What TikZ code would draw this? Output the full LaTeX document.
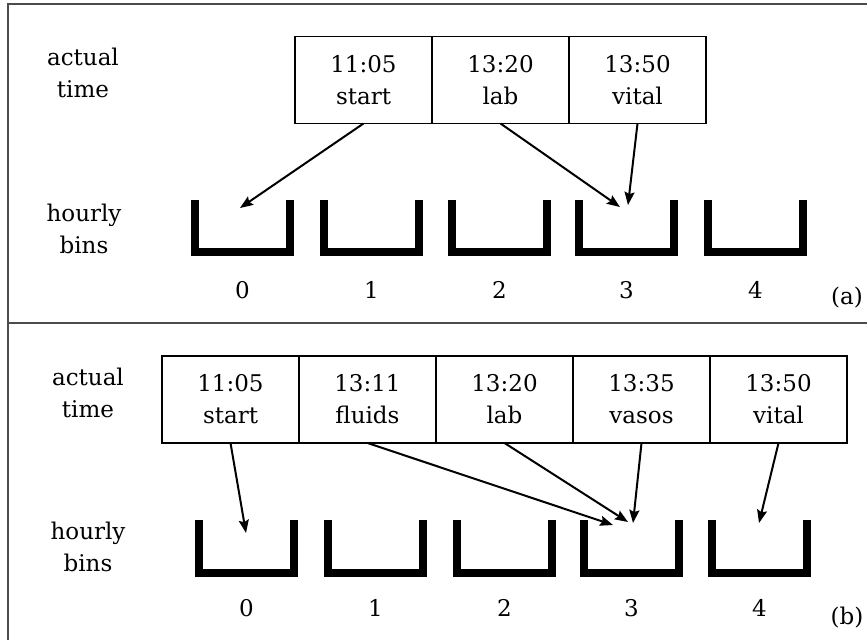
\documentclass[tikz,border=0pt]{standalone}
\usepackage{fontspec}
\setmainfont{DejaVu Serif}
\usetikzlibrary{arrows.meta,positioning}

\tikzset{
  evbox/.style={draw, line width=1.4pt, align=center, minimum width=137pt,
    minimum height=87pt, inner sep=0pt, outer sep=0pt},
  binline/.style={line width=8pt, line join=miter},
  evarrow/.style={-{Stealth[length=13pt,width=10pt,inset=2pt]}, line width=2pt},
  panel/.style={draw=black!70, line width=1.5pt},
  rowlabel/.style={align=center},
}

\begin{document}
\begin{tikzpicture}[x=1pt,y=-1pt, font=\fontsize{23}{32}\selectfont]
\useasboundingbox (0,0) rectangle (867,640);

% frame: left and top edge, divider between the two panels
\draw[panel] (8,640) -- (8,4) -- (867,4);
\draw[panel] (8,323) -- (867,323);

%%% panel (a)
\node[rowlabel] (acta) at (83,73) {actual\\time};
\node[rowlabel] (hrsa) at (84,229) {hourly\\bins};

\node[evbox] (TA1) at (363.5,80) {11:05\\start};
\node[evbox, right=0pt of TA1] (TA2) {13:20\\lab};
\node[evbox, right=0pt of TA2] (TA3) {13:50\\vital};

\foreach \x [count=\i from 0] in {191,320,448,575,704} {
    \draw[binline] (\x+4,200) -- (\x+4,252) -- (\x+99,252) -- (\x+99,200);
    \node (na\i) at (\x+51.5,290) {\i};
}

\coordinate (pa0) at (240,208);
\coordinate (pa3l) at (620,207);
\coordinate (pa3v) at (628,205);
\draw[evarrow] (TA1.south) -- (pa0);
\draw[evarrow] (TA2.south) -- (pa3l);
\draw[evarrow] (TA3.south) -- (pa3v);

\node (laba) at (847,298) {(a)};

%%% panel (b)
\node[rowlabel] (actb) at (88,393) {actual\\time};
\node[rowlabel] (hrsb) at (88,547) {hourly\\bins};

\node[evbox] (TB1) at (230.5,399.5) {11:05\\start};
\node[evbox, right=0pt of TB1] (TB2) {13:11\\fluids};
\node[evbox, right=0pt of TB2] (TB3) {13:20\\lab};
\node[evbox, right=0pt of TB3] (TB4) {13:35\\vasos};
\node[evbox, right=0pt of TB4] (TB5) {13:50\\vital};

\foreach \x [count=\i from 0] in {195,324,453,580,708} {
    \draw[binline] (\x+4,520) -- (\x+4,573) -- (\x+99,573) -- (\x+99,520);
    \node (nb\i) at (\x+51.5,608) {\i};
}

\coordinate (pb0) at (246,533);
\coordinate (pb3f) at (613,525);
\coordinate (pb3l) at (628,522);
\coordinate (pb3v) at (633,523);
\coordinate (pb4) at (759,523);
\draw[evarrow] (TB1.south) -- (pb0);
\draw[evarrow] (TB2.south) -- (pb3f);
\draw[evarrow] (TB3.south) -- (pb3l);
\draw[evarrow] (TB4.south) -- (pb3v);
\draw[evarrow] (TB5.south) -- (pb4);

\node (labb) at (847,618) {(b)};

\end{tikzpicture}
\end{document}
